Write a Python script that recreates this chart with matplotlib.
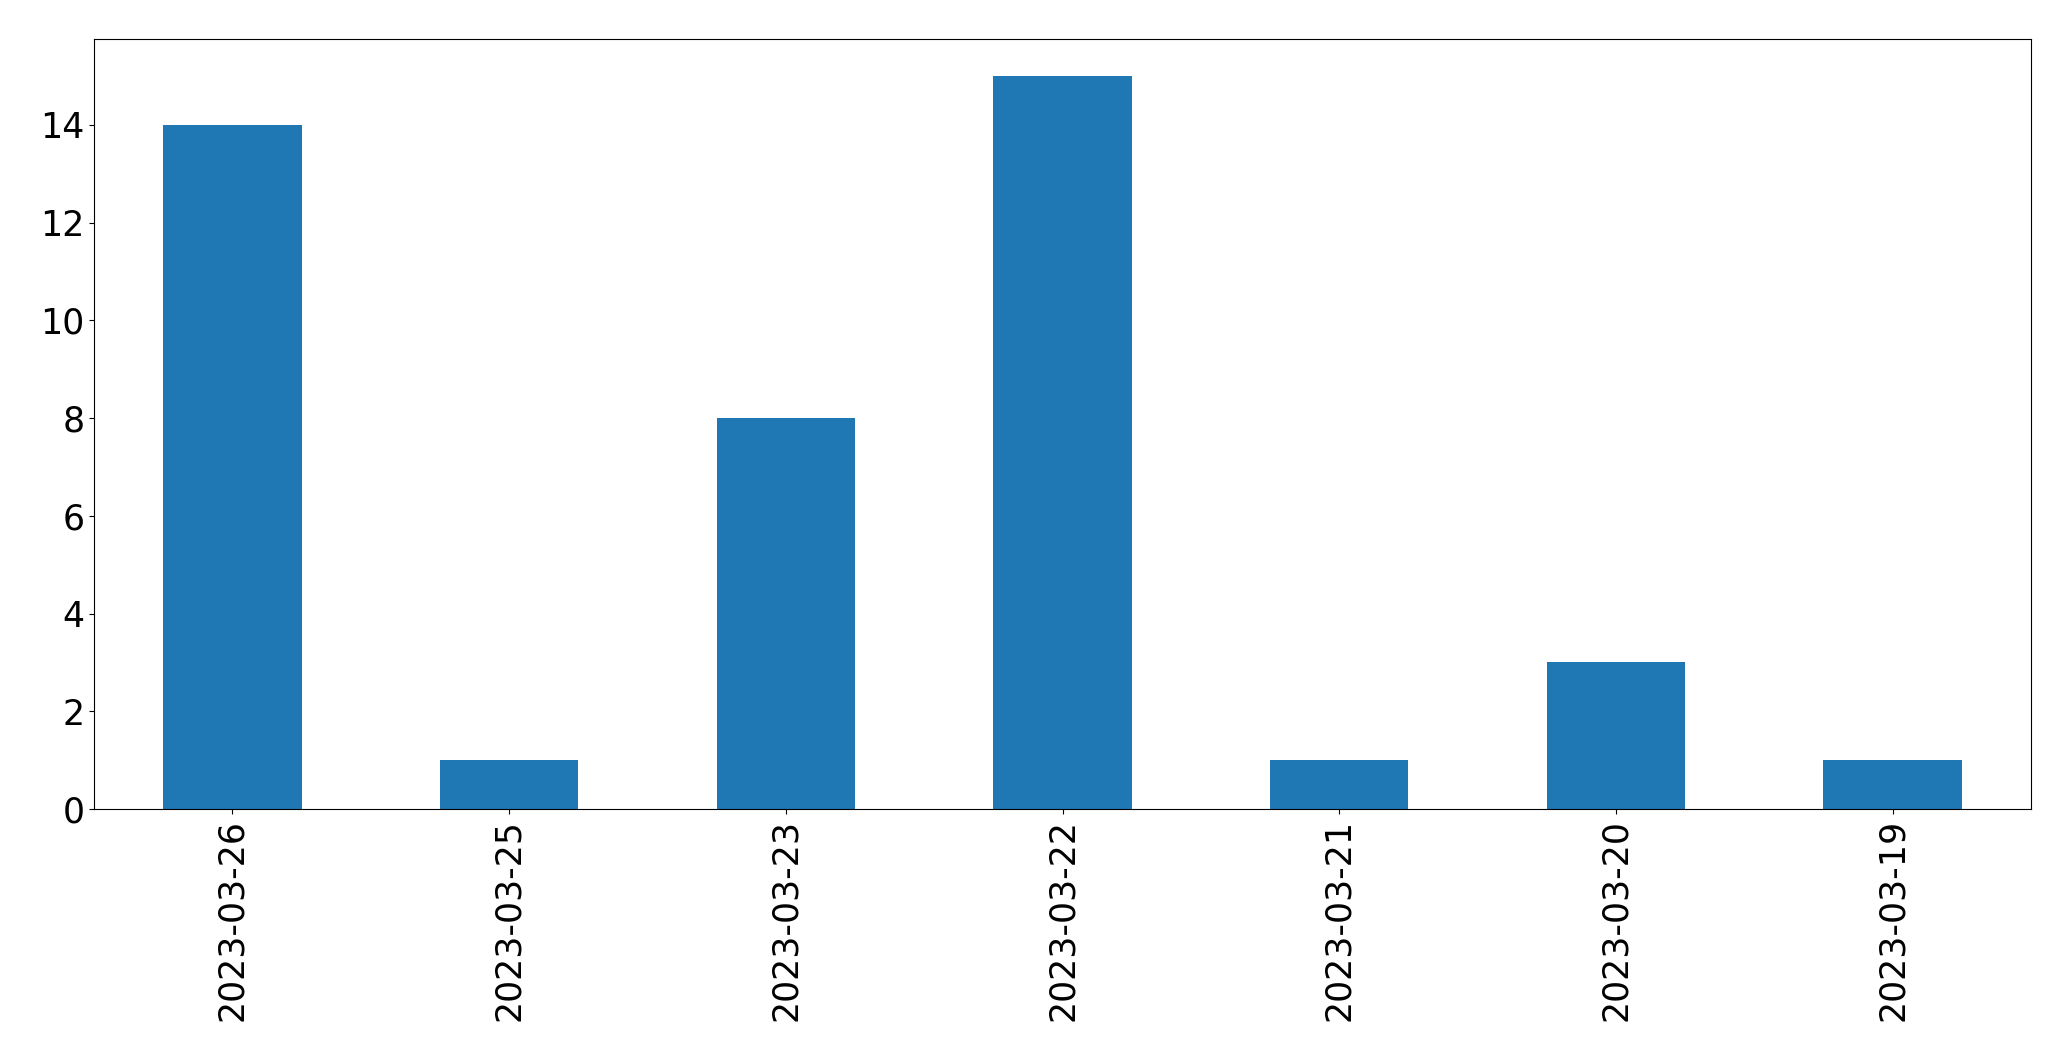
import pandas as pd
import matplotlib
matplotlib.use("Agg")
import matplotlib.pyplot as plt

dates = ["2023-03-26", "2023-03-25", "2023-03-23", "2023-03-22",
         "2023-03-21", "2023-03-20", "2023-03-19"]
counts = [14, 1, 8, 15, 1, 3, 1]

s = pd.Series(counts, index=dates)

fig = plt.figure(figsize=(20.71, 10.61), dpi=100)
ax = fig.add_axes([0.0454, 0.2375, 0.9353, 0.7253])
s.plot(kind="bar", ax=ax, color="#1f77b4", fontsize=25)

fig.savefig("out.png", dpi=100)
